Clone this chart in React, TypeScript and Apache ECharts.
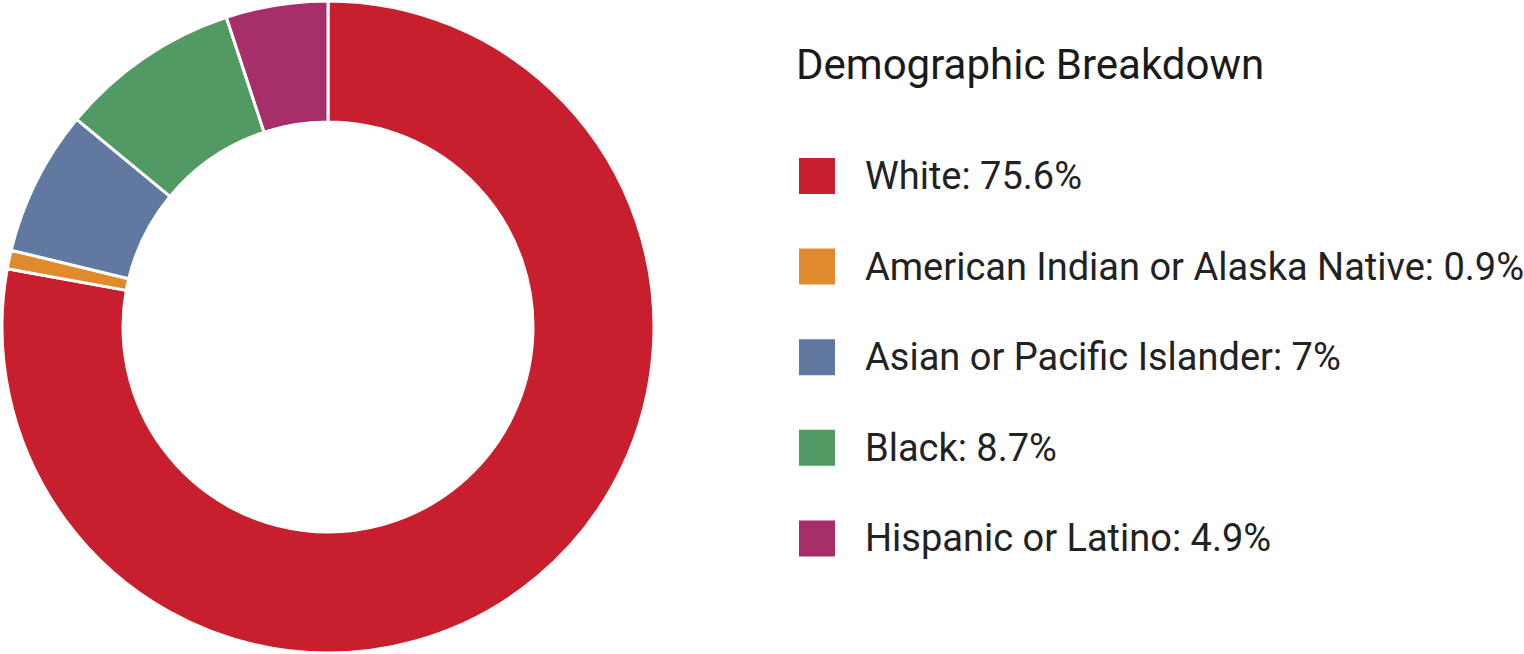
import React, { useEffect, useRef } from "react";
import * as echarts from "echarts";

const categories = [
  "White",
  "American Indian or Alaska Native",
  "Asian or Pacific Islander",
  "Black",
  "Hispanic or Latino",
];
const values = [75.6, 0.9, 7, 8.7, 4.9];
const colors = ["#C81F2F", "#E08A2E", "#6179A1", "#529A63", "#A62F69"];
const titleText = "Demographic Breakdown";

export default function App() {
  const ref = useRef<HTMLDivElement>(null);
  useEffect(() => {
    if (!ref.current) return;
    const chart = echarts.init(ref.current, null, { renderer: "svg" });
    const fmt = (name: string) => {
      const i = categories.indexOf(name);
      return `${name}: ${values[i]}%`;
    };
    chart.setOption({
      animation: false,
      backgroundColor: "#ffffff",
      title: {
        text: titleText,
        left: 796,
        top: 43,
        padding: 0,
        textStyle: {
          fontFamily: "Roboto",
          fontSize: 42,
          fontWeight: "normal",
          color: "#1a1a1a",
        },
      },
      legend: {
        orient: "vertical",
        left: 797,
        top: 156,
        padding: 0,
        itemWidth: 38,
        itemHeight: 38,
        itemGap: 50.6,
        icon: "rect",
        selectedMode: false,
        formatter: fmt,
        textStyle: {
          fontFamily: "Roboto",
          fontSize: 38,
          lineHeight: 38,
          color: "#222222",
          padding: [0, 0, 0, 24],
        },
        data: categories,
      },
      series: [
        {
          type: "pie",
          center: [328, 327],
          radius: [205, 326],
          startAngle: 90,
          clockwise: true,
          label: { show: false },
          labelLine: { show: false },
          emphasis: { disabled: true },
          itemStyle: { borderColor: "#ffffff", borderWidth: 3 },
          data: categories.map((c, i) => ({
            name: c,
            value: values[i],
            itemStyle: { color: colors[i] },
          })),
        },
      ],
    });
    return () => chart.dispose();
  }, []);
  return (
    <div
      ref={ref}
      style={{ position: "fixed", left: 0, top: 0, width: 1524, height: 654 }}
    />
  );
}
